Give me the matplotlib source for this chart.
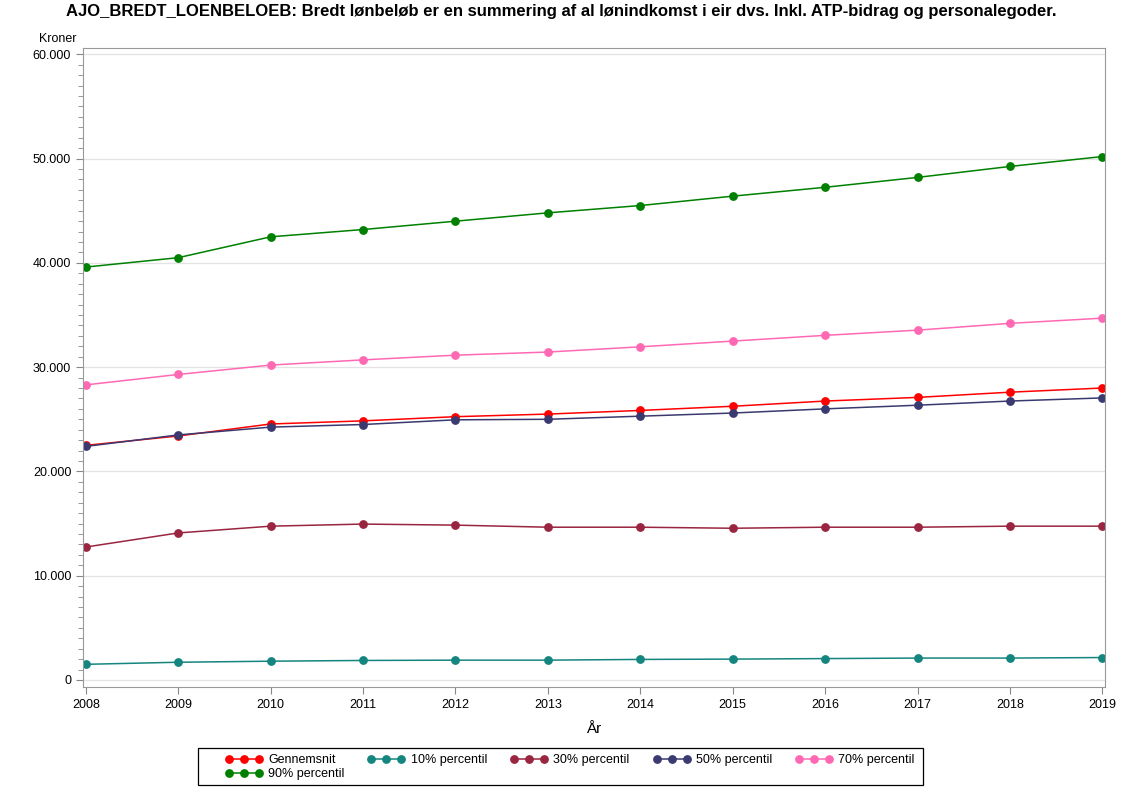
import numpy as np
import matplotlib
matplotlib.use("Agg")
import matplotlib.pyplot as plt
from matplotlib.patches import Rectangle
from matplotlib.ticker import FuncFormatter, MultipleLocator

plt.rcParams["font.family"] = ["Liberation Sans", "DejaVu Sans"]

years = list(range(2008, 2020))

gennemsnit = [22500, 23400, 24550, 24850, 25250, 25500, 25850, 26250, 26750, 27100, 27600, 28000]
p10 = [1500, 1700, 1800, 1870, 1900, 1900, 1970, 2000, 2050, 2100, 2100, 2150]
p30 = [12750, 14100, 14750, 14950, 14850, 14650, 14650, 14550, 14650, 14650, 14750, 14750]
p50 = [22400, 23500, 24250, 24500, 24950, 25000, 25300, 25600, 26000, 26350, 26750, 27050]
p70 = [28300, 29300, 30200, 30700, 31150, 31450, 31950, 32500, 33050, 33550, 34200, 34700]
p90 = [39600, 40500, 42500, 43200, 44000, 44800, 45500, 46400, 47250, 48200, 49250, 50200]

series = [
    ("Gennemsnit", gennemsnit, "#ff0000"),
    ("10% percentil", p10, "#14857f"),
    ("30% percentil", p30, "#9a2540"),
    ("50% percentil", p50, "#3a3a70"),
    ("70% percentil", p70, "#ff69b4"),
    ("90% percentil", p90, "#008000"),
]

W, H = 1122, 793
fig = plt.figure(figsize=(W / 100, H / 100), dpi=100)
ax = fig.add_axes([0.074, 0.134, 0.911, 0.806])

handles = {}
for name, vals, col in series:
    ln, = ax.plot(years, vals, "-o", color=col, lw=1.1, ms=5.3, label=name)
    handles[name] = ln

ax.set_xlim(2007.97, 2019.03)
ax.set_ylim(-650, 60650)
ax.set_xticks(years)
ax.yaxis.set_major_locator(MultipleLocator(10000))
ax.yaxis.set_minor_locator(MultipleLocator(1000))
ax.yaxis.set_major_formatter(FuncFormatter(lambda v, _: f"{v:,.0f}".replace(",", ".")))
ax.grid(axis="y", which="major", color="#e3e3e3", lw=0.9)
ax.set_axisbelow(True)

for sp in ax.spines.values():
    sp.set_color("#999999")
ax.tick_params(which="both", direction="out", color="#888888", labelsize=9)
ax.tick_params(which="major", length=5)
ax.tick_params(which="minor", length=3.5)

ax.set_xlabel("År", fontsize=11, labelpad=8)
ax.text(-0.006, 1.004, "Kroner", transform=ax.transAxes, ha="right", va="bottom", fontsize=9)

fig.text(0.5, 0.995, "AJO_BREDT_LOENBELOEB: Bredt lønbeløb er en summering af al lønindkomst i eir dvs. Inkl. ATP-bidrag og personalegoder.",
         ha="center", va="top", fontsize=12, fontweight="bold")

# legend frame drawn separately (SAS box has uneven padding)
fig.patches.append(Rectangle((198 / W, 1 - 785 / H), 725 / W, 37 / H, transform=fig.transFigure,
                             fill=False, edgecolor="black", lw=0.9))

# column-major fill -> reorder so it reads row by row
order = ["Gennemsnit", "90% percentil", "10% percentil", "30% percentil", "50% percentil", "70% percentil"]
fig.legend([handles[n] for n in order], order, loc="upper left", bbox_to_anchor=(225 / W, 1 - 754 / H),
           ncol=5, numpoints=3, fontsize=9, frameon=False, handlelength=3.0, columnspacing=1.85,
           borderpad=0, labelspacing=0.15, handletextpad=0.45, borderaxespad=0)

fig.savefig("out.png", dpi=100)
